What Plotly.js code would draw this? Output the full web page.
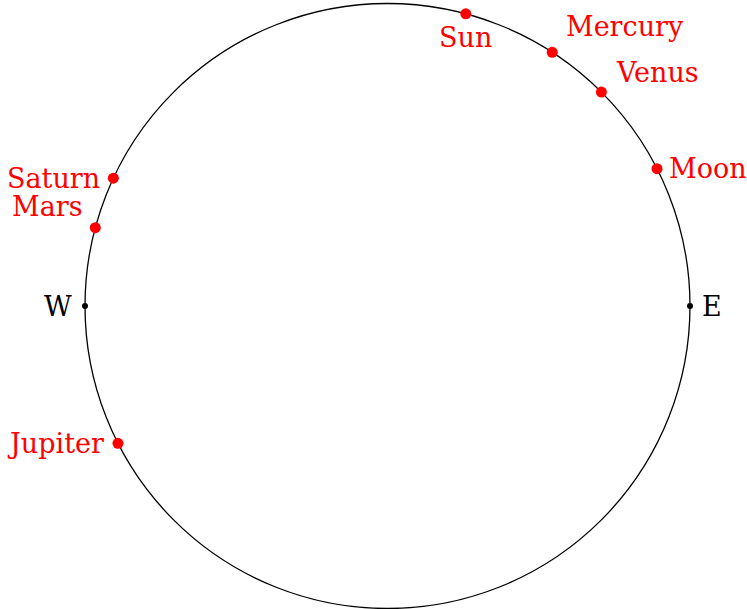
<!DOCTYPE html>
<html>
<head>
<meta charset="utf-8">
<script src="https://cdn.plot.ly/plotly-3.0.1.min.js"></script>
<style>html,body{margin:0;padding:0;background:#fff;}#chart{width:747px;height:609px;}</style>
</head>
<body>
<div id="chart"></div>
<script>
// Data: bodies and their angular position on the circle (degrees, counter-clockwise from East)
const bodies = ["Sun", "Mercury", "Venus", "Moon", "Saturn", "Mars", "Jupiter"];
const angles = [75, 57, 45, 27, 155, 165, 207];
const compass = ["W", "E"];
const compassAngles = [180, 0];

// Label placement (style only)
const labelStyle = {
  Sun:     {xanchor: "center", dx: 0,   dy: -24},
  Mercury: {xanchor: "left",   dx: 12,  dy: 26},
  Venus:   {xanchor: "left",   dx: 13,  dy: 20},
  Moon:    {xanchor: "left",   dx: 10,  dy: 0},
  Saturn:  {xanchor: "right",  dx: -11, dy: 0},
  Mars:    {xanchor: "right",  dx: -10, dy: 21},
  Jupiter: {xanchor: "right",  dx: -12, dy: 0},
  W:       {xanchor: "right",  dx: -11, dy: 0},
  E:       {xanchor: "left",   dx: 10,  dy: 0}
};

const rad = d => d * Math.PI / 180;
const bx = angles.map(a => Math.cos(rad(a)));
const by = angles.map(a => Math.sin(rad(a)));
const cx = compassAngles.map(a => Math.cos(rad(a)));
const cy = compassAngles.map(a => Math.sin(rad(a)));

const font = "DejaVu Serif";

const annotations = [];
bodies.forEach((b, i) => {
  const s = labelStyle[b];
  annotations.push({x: bx[i], y: by[i], xref: "x", yref: "y", text: b, showarrow: false,
    xanchor: s.xanchor, yanchor: "middle", xshift: s.dx, yshift: s.dy,
    font: {family: font, size: 27, color: "#ff0000"}});
});
compass.forEach((c, i) => {
  const s = labelStyle[c];
  annotations.push({x: cx[i], y: cy[i], xref: "x", yref: "y", text: c, showarrow: false,
    xanchor: s.xanchor, yanchor: "middle", xshift: s.dx, yshift: s.dy,
    font: {family: font, size: 27, color: "#000000"}});
});

const traces = [
  {x: cx, y: cy, mode: "markers", type: "scatter", marker: {color: "#000", size: 6}, hoverinfo: "skip"},
  {x: bx, y: by, mode: "markers", type: "scatter", marker: {color: "#ff0000", size: 11}, text: bodies, hoverinfo: "text"}
];

const R = 302.5;
const layout = {
  width: 747, height: 609,
  margin: {l: 0, r: 0, t: 0, b: 0},
  paper_bgcolor: "#fff", plot_bgcolor: "#fff",
  showlegend: false,
  font: {family: font},
  xaxis: {range: [-387.5 / R, (747 - 387.5) / R], visible: false, fixedrange: true},
  yaxis: {range: [-(609 - 306) / R, 306 / R], visible: false, fixedrange: true},
  shapes: [{type: "circle", xref: "x", yref: "y", x0: -1, x1: 1, y0: -1, y1: 1,
    line: {color: "#000", width: 1.3}, layer: "below"}],
  annotations: annotations
};

Plotly.newPlot("chart", traces, layout, {staticPlot: true});
</script>
</body>
</html>
